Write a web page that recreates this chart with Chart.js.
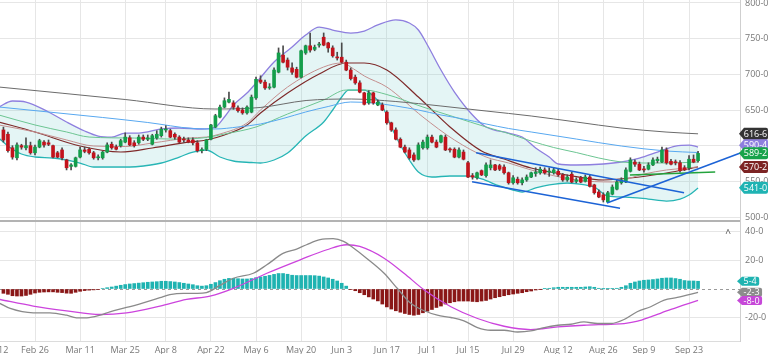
<!DOCTYPE html>
<html>
<head>
<meta charset="utf-8">
<title>Price chart</title>
<script src="https://cdn.jsdelivr.net/npm/chart.js@4.4.1/dist/chart.umd.min.js"></script>
<style>
  html, body { margin: 0; padding: 0; background: #fff; }
  #wrap { position: relative; width: 768px; height: 354px; overflow: hidden; }
  #priceChart { position: absolute; left: 0; top: 0; }
  #macdChart { position: absolute; left: 0; top: 222px; }
</style>
</head>
<body>
<div id="wrap">
  <canvas id="priceChart" width="768" height="222"></canvas>
  <canvas id="macdChart" width="768" height="132"></canvas>
</div>
<script>
// trading days from Feb 12 2024 (x values are indexes in this list)
const holidays = ["2024-02-19", "2024-03-29", "2024-05-27", "2024-06-19", "2024-07-04", "2024-09-02"];
const monthNames = ["Jan", "Feb", "Mar", "Apr", "May", "Jun", "Jul", "Aug", "Sep", "Oct", "Nov", "Dec"];
const dates = [];
for (let t = new Date(Date.UTC(2024, 1, 12)); t <= new Date(Date.UTC(2024, 9, 15)); t.setUTCDate(t.getUTCDate() + 1)) {
  const wd = t.getUTCDay();
  if (wd === 0 || wd === 6 || holidays.includes(t.toISOString().slice(0, 10))) continue;
  dates.push(monthNames[t.getUTCMonth()] + " " + t.getUTCDate());
}

const tickLabels = ["Feb 12", "Feb 26", "Mar 11", "Mar 25", "Apr 8", "Apr 22", "May 6", "May 20", "Jun 3",
  "Jun 17", "Jul 1", "Jul 15", "Jul 29", "Aug 12", "Aug 26", "Sep 9", "Sep 23"];
const firstCandle = "Feb 14";
const priceTicks = [500, 550, 600, 650, 700, 750, 800];
const macdTicks = [40, 20, 0, -20];

// daily candles, Feb 14 .. Sep 25
const open = [
  622, 616, 597, 583, 600, 597, 600, 590, 598, 605,
  604, 600, 590, 594, 580, 571, 571, 584, 594, 595,
  590, 583, 583, 591, 602, 598, 600, 605, 611, 604,
  604, 612, 609, 602, 611, 614, 622, 621, 616, 612,
  609, 608, 608, 604, 593, 595, 609, 626, 640, 654,
  661, 660, 653, 650, 646, 647, 667, 692, 689, 681,
  682, 703, 727, 720, 709, 707, 696, 730, 740, 735,
  741, 752, 744, 737, 724, 724, 717, 706, 696, 688,
  674, 660, 674, 657, 657, 647, 632, 622, 609, 598,
  594, 587, 581, 597, 597, 612, 605, 605, 612, 595,
  595, 584, 591, 576, 558, 555, 565, 558, 569, 573,
  572, 570, 562, 548, 553, 548, 552, 556, 561, 562,
  566, 563, 562, 564, 559, 552, 560, 550, 555, 550,
  556, 545, 535, 531, 521, 532, 539, 548, 549, 564,
  577, 574, 567, 567, 573, 579, 577, 594, 578, 577,
  576, 569, 569, 581, 579
];
const high = [
  626, 619, 600, 604, 602, 611, 605, 601, 609, 607,
  608, 601, 592, 597, 581, 575, 584, 598, 598, 597,
  592, 587, 592, 604, 605, 601, 609, 618, 614, 607,
  615, 615, 615, 616, 621, 626, 628, 623, 618, 614,
  612, 611, 611, 607, 597, 609, 630, 644, 657, 667,
  675, 663, 656, 653, 656, 671, 696, 698, 692, 687,
  709, 737, 740, 723, 716, 710, 734, 741, 758, 741,
  745, 758, 745, 740, 731, 744, 720, 709, 699, 691,
  675, 677, 675, 664, 660, 649, 633, 625, 611, 601,
  597, 590, 604, 608, 615, 615, 608, 615, 615, 597,
  597, 597, 594, 578, 561, 563, 566, 576, 580, 574,
  574, 573, 563, 558, 556, 555, 559, 563, 569, 570,
  569, 569, 569, 567, 561, 559, 563, 555, 557, 559,
  559, 546, 538, 534, 536, 545, 552, 555, 569, 583,
  580, 577, 571, 576, 583, 584, 598, 597, 581, 580,
  579, 572, 586, 587, 592
];
const low = [
  605, 591, 581, 580, 595, 594, 588, 587, 597, 598,
  600, 583, 583, 580, 566, 566, 570, 583, 590, 588,
  581, 580, 581, 590, 595, 594, 598, 604, 600, 598,
  602, 607, 607, 601, 609, 612, 619, 611, 609, 604,
  605, 604, 601, 591, 590, 593, 608, 625, 639, 653,
  660, 651, 647, 644, 644, 646, 665, 687, 679, 679,
  681, 702, 716, 706, 700, 695, 695, 728, 731, 733,
  738, 740, 731, 724, 720, 716, 705, 692, 686, 674,
  657, 658, 658, 656, 649, 630, 620, 608, 597, 590,
  581, 578, 580, 595, 595, 604, 597, 604, 593, 591,
  583, 583, 580, 555, 553, 553, 558, 556, 566, 565,
  565, 560, 546, 546, 546, 545, 550, 555, 557, 560,
  560, 557, 560, 557, 550, 550, 548, 548, 548, 549,
  542, 532, 527, 521, 520, 531, 538, 546, 548, 563,
  571, 565, 563, 566, 572, 576, 576, 574, 573, 573,
  563, 565, 566, 576, 577
];
const close = [
  608, 593, 584, 601, 598, 600, 590, 598, 607, 601,
  602, 584, 584, 583, 569, 573, 583, 594, 592, 590,
  583, 584, 591, 601, 597, 595, 607, 612, 601, 600,
  612, 609, 611, 614, 616, 623, 623, 612, 612, 605,
  608, 605, 604, 593, 594, 608, 629, 642, 654, 663,
  665, 654, 649, 646, 654, 668, 693, 689, 681, 682,
  706, 730, 717, 710, 703, 696, 733, 740, 734, 738,
  742, 741, 737, 726, 723, 717, 706, 694, 688, 675,
  658, 674, 660, 661, 650, 632, 622, 609, 598, 591,
  583, 580, 601, 605, 612, 605, 598, 614, 594, 594,
  584, 594, 581, 556, 556, 562, 559, 573, 573, 566,
  567, 562, 548, 555, 548, 552, 556, 562, 563, 567,
  562, 564, 566, 559, 552, 556, 549, 552, 549, 556,
  543, 534, 528, 524, 534, 542, 549, 552, 566, 580,
  574, 566, 566, 573, 580, 581, 594, 576, 574, 576,
  565, 566, 581, 577, 589.2
];

// MACD histogram, same days as the candles
const histogram = [
  -3.0, -3.7, -4.7, -4.9, -4.9, -4.5, -3.7, -2.8, -2.3, -2.1,
  -2.0, -2.0, -2.3, -2.5, -2.9, -3.0, -2.3, -1.6, -1.1, -0.8,
  -0.6, -0.4, 0.3, 0.9, 1.4, 2.0, 2.6, 3.1, 3.5, 3.8,
  4.1, 4.4, 4.7, 4.9, 5.1, 5.4, 5.4, 5.2, 4.9, 4.5,
  4.0, 3.5, 3.0, 2.3, 2.0, 2.3, 3.3, 4.5, 5.8, 6.8,
  7.4, 7.5, 7.2, 7.0, 7.0, 7.3, 7.9, 8.4, 8.9, 9.5,
  10.2, 10.8, 10.8, 10.3, 9.6, 9.4, 9.4, 9.4, 9.4, 9.3,
  9.0, 8.4, 7.7, 6.8, 5.6, 4.0, 2.0, -0.4, -1.2, -2.6,
  -4.0, -5.5, -7.0, -8.3, -10.5, -12.5, -14.0, -15.2, -16.2, -17.1,
  -17.8, -18.3, -17.8, -16.6, -15.5, -14.3, -12.9, -11.9, -10.5, -9.6,
  -8.9, -8.4, -8.4, -8.4, -8.7, -8.9, -8.4, -8.0, -7.0, -6.1,
  -5.4, -4.7, -4.0, -3.5, -3.0, -2.6, -1.9, -1.4, -0.7, -0.2,
  0.2, 0.5, 0.9, 1.2, 1.2, 1.2, 1.2, 1.2, 1.2, 1.4,
  1.6, 1.2, 0.5, 0.1, 0.2, 0.2, 0.5, 1.2, 2.3, 4.0,
  4.9, 5.6, 6.1, 6.3, 6.6, 7.0, 7.5, 7.7, 7.7, 7.3,
  6.8, 5.9, 5.6, 5.6, 5.4
];

// indicator lines, read at sample days (x = day index)
const sma200X = [1, 29, 48.9, 58.9, 69.1, 79.1, 89, 99, 109, 119, 129, 138.9, 148.9, 156];
const sma200 = [682.2, 664.7, 651.4, 653.5, 663.3, 665.4, 661.9, 655.6, 648.6, 641.6, 633.2, 624.8, 619.1, 616.6];

const sma100X = [1, 12, 24, 34, 44, 49, 54, 59, 64, 69, 74, 79, 84, 89, 94, 99, 104, 109, 114, 119, 129, 139, 149, 156];
const sma100 = [654.2, 647.2, 639.5, 632.5, 624.1, 623.4, 626.2, 630.4, 638.1, 647.2, 654.9, 661.2, 659.8, 655.6,
  650.0, 643.0, 637.4, 630.4, 624.1, 619.2, 609.3, 599.5, 592.5, 590.4];

const sma50X = [1, 9, 16, 21, 31, 39, 46, 51, 58, 65, 73, 78, 82, 87, 95, 102, 109, 114, 119, 124, 129, 134, 139, 144, 149, 156];
const sma50 = [643.0, 629.0, 619.2, 612.1, 610.7, 609.3, 610.7, 616.3, 626.2, 644.4, 664.0, 678.0, 678.0, 671.7,
  654.2, 640.2, 626.2, 617.0, 606.5, 597.4, 590.4, 582.7, 577.1, 575.7, 575.7, 577.1];

const ema20X = [1, 9, 19, 28, 35, 43, 47, 51, 56, 59, 65, 72, 78, 82, 87, 94, 101, 108, 113, 119, 127, 135, 143, 149, 156];
const ema20 = [633.2, 619.2, 599.5, 591.1, 596.7, 605.1, 607.9, 614.9, 629.0, 645.8, 673.8, 700.5, 715.9, 715.9,
  706.1, 668.2, 626.2, 592.5, 581.3, 568.7, 558.9, 551.9, 556.1, 561.7, 570.2];

const sma20X = [1, 9, 16, 22, 29, 35, 43, 47, 50, 56, 59, 65, 73, 77, 80, 82, 87, 95, 102, 109, 114, 119, 129, 137, 144, 149, 156];
const sma20 = [629.0, 619.2, 608.0, 599.5, 598.8, 603.7, 610.7, 612.1, 616.3, 631.8, 650.0, 682.2, 710.3, 715.9,
  706.1, 697.7, 682.2, 640.2, 607.9, 584.1, 575.7, 565.9, 551.9, 549.1, 560.3, 565.9, 570.1];

const bbUpperX = [1, 4, 7, 12, 16, 20, 23, 26, 29, 32, 37, 41, 46, 49, 51, 53, 56, 58, 62, 66, 69, 72, 75, 79, 82,
  85, 89, 92, 94, 96, 99, 102, 106, 109, 114, 117, 120, 123, 125, 129, 135, 139, 143, 147, 151, 154, 156];
const bbUpper = [654.2, 662.6, 661.2, 647.2, 633.2, 620.6, 613.5, 612.1, 617.7, 617.7, 623.4, 624.8, 623.4, 626.2,
  640.2, 657.0, 673.8, 687.8, 717.3, 738.3, 755.1, 766.3, 762.1, 757.9, 760.7, 769.2, 776.2, 771.9, 762.1,
  741.1, 706.1, 675.2, 643.0, 626.2, 617.7, 612.1, 596.7, 584.1, 574.3, 572.9, 574.3, 577.1, 582.7, 591.1,
  599.5, 600.9, 598.1];

const bbLowerX = [1, 3, 6, 9, 13, 16, 19, 22, 26, 30, 33, 37, 41, 44, 47, 50, 53, 57, 59, 62, 65, 69, 73, 75, 77,
  78.5, 82, 84, 86, 88, 90, 92, 94, 97, 101, 105, 108, 112, 115, 117, 120, 123, 127, 131, 133, 136, 140, 145,
  149, 152, 154, 156];
const bbLower = [610.7, 599.5, 588.3, 584.1, 582.7, 579.9, 575.7, 570.1, 570.1, 570.1, 571.5, 575.7, 584.1, 591.1,
  593.9, 584.1, 578.5, 576.4, 575.7, 579.9, 589.7, 613.5, 633.2, 650.0, 668.2, 678.0, 678.0, 669.6, 655.6,
  626.2, 600.9, 579.9, 563.1, 556.1, 557.5, 557.5, 553.3, 543.5, 537.8, 535.0, 540.7, 544.9, 547.7, 544.9,
  542.1, 529.4, 528.0, 525.2, 522.4, 525.2, 530.8, 540.7];

// drawn trend lines (two ends each)
const channelTopX = [106.8, 152.9], channelTop = [590.1, 534.1];
const channelBottomX = [105.9, 138.7], channelBottom = [549.5, 512.2];
const riseLineX = [135.8, 167], riseLine = [519.6, 593.6];
const supportX = [140.9, 159.8], support = [558.9, 563.1];

// MACD and signal lines
const macdX = [1.2, 3.5, 8.6, 12.3, 16, 18.2, 20.5, 23.4, 25.6, 29.3, 33, 36.7, 38.9, 41.9, 45, 47, 50, 53, 57.4,
  60.4, 64.1, 67, 69.2, 72.2, 75.1, 77.4, 79.6, 82.5, 86.4, 89.3, 92.3, 95.3, 98.2, 101.2, 104.1, 107.1, 110,
  113, 116, 118.9, 121.9, 124.9, 127.8, 130.7, 133.7, 136.7, 139.6, 142.5, 145.5, 148.5, 151.4, 156];
const macdLine = [-10, -13.6, -16.6, -16.6, -18.3, -20.1, -20.1, -18.3, -15.9, -12.9, -9.6, -6.1, -4, -3, -3, -2.5,
  2.5, 7.5, 11, 16.9, 25, 27.9, 30.9, 34.4, 35.1, 33.3, 28.6, 21.5, 11, 0.5, -10, -15.2, -18.3, -19.9, -22.2,
  -26.9, -28.8, -28.8, -30, -29.3, -26.9, -25.3, -24.6, -23, -24.1, -24.1, -21.3, -15.9, -12.4, -7.7, -5.9, -2.3];
const signalX = [1.2, 8.6, 16, 23.4, 29.3, 36.7, 42.6, 47.8, 53, 60.4, 67.8, 73.7, 78.1, 81, 86.4, 90.8, 95.3,
  101.2, 107.1, 113, 118.9, 124.9, 130.7, 136.7, 139.6, 142.6, 145.5, 150, 156];
const signalLine = [-7.3, -11.9, -15.2, -17.8, -16.6, -11.9, -7.3, -4.9, 0.5, 11, 20.4, 27.4, 30.9, 29.7, 21.5,
  11, -0.7, -12.4, -20.6, -26, -28.3, -26.5, -25.3, -24.6, -24.1, -22.5, -19.4, -14.3, -8.0];

// last-value tags on the right axis
const priceTagValues = [616.6, 590.4, 589.2, 570.2, 541.0];
const priceTagColors = ["#333333", "#8e7fdf", "#17a34a", "#7c2424", "#1fb3b3"];
const macdTagValues = [5.4, -2.3, -8.0];
const macdTagColors = ["#1fb3b1", "#8c8c8c", "#c648d8"];

const viewMin = 1.24, viewMax = 165.3;
const fmt = v => Number(v).toFixed(1).replace(".", "-");
const pts = (xs, ys) => xs.map((x, i) => ({ x: x, y: ys[i] }));

Chart.defaults.font.family = "'Open Sans', 'Noto Sans', sans-serif";
Chart.defaults.font.size = 9;
Chart.defaults.color = "#777";

const start = dates.indexOf(firstCandle);
const candleX = open.map((_, k) => start + k);
const xTickValues = tickLabels.map(l => dates.indexOf(l));
const up = open.map((o, k) => close[k] >= o);

function lineSet(label, xs, ys, color, width, order) {
  return {
    type: "line", label: label, data: pts(xs, ys), borderColor: color, borderWidth: width,
    pointRadius: 0, cubicInterpolationMode: "monotone", fill: false, order: order
  };
}

function drawTags(ctx, scale, values, colors, x0, h, right) {
  const ys = values.map(v => scale.getPixelForValue(v));
  for (let k = ys.length - 2; k >= 0; k--) {
    if (ys[k + 1] - ys[k] < h - 4) ys[k] = ys[k + 1] - (h - 4);
  }
  ctx.font = "9px 'Open Sans', 'Noto Sans', sans-serif";
  values.forEach((v, k) => {
    const text = fmt(v);
    const w = right ? right - x0 : ctx.measureText(text).width + 9;
    const y = ys[k];
    ctx.fillStyle = colors[k];
    ctx.beginPath();
    ctx.moveTo(x0, y);
    ctx.lineTo(x0 + 5, y - h / 2);
    ctx.lineTo(x0 + w - 2, y - h / 2);
    ctx.quadraticCurveTo(x0 + w, y - h / 2, x0 + w, y - h / 2 + 2);
    ctx.lineTo(x0 + w, y + h / 2 - 2);
    ctx.quadraticCurveTo(x0 + w, y + h / 2, x0 + w - 2, y + h / 2);
    ctx.lineTo(x0 + 5, y + h / 2);
    ctx.closePath();
    ctx.fill();
    ctx.fillStyle = "#fff";
    ctx.textAlign = "center";
    ctx.textBaseline = "middle";
    ctx.fillText(text, x0 + 4 + (w - 4) / 2, y + 0.5);
  });
}

const priceOverlay = {
  id: "priceOverlay",
  afterDraw(chart) {
    const ctx = chart.ctx, area = chart.chartArea;
    ctx.save();
    ctx.strokeStyle = "#b3b3b3";
    ctx.lineWidth = 2;
    ctx.beginPath();
    ctx.moveTo(0, area.bottom - 1);
    ctx.lineTo(area.right, area.bottom - 1);
    ctx.stroke();
    drawTags(ctx, chart.scales.y, priceTagValues, priceTagColors, area.right - 1, 12, 768);
    ctx.restore();
  }
};

const macdOverlay = {
  id: "macdOverlay",
  beforeDatasetsDraw(chart) {
    const ctx = chart.ctx, area = chart.chartArea;
    const y0 = Math.round(chart.scales.y.getPixelForValue(0)) + 0.5;
    ctx.save();
    ctx.strokeStyle = "#9a9a9a";
    ctx.lineWidth = 1;
    ctx.setLineDash([3, 3]);
    ctx.beginPath();
    ctx.moveTo(area.left, y0);
    ctx.lineTo(area.right, y0);
    ctx.stroke();
    ctx.restore();
  },
  afterDraw(chart) {
    const ctx = chart.ctx, area = chart.chartArea;
    ctx.save();
    drawTags(ctx, chart.scales.y, macdTagValues, macdTagColors, area.right - 3, 9, null);
    ctx.fillStyle = "#555";
    ctx.font = "10px 'Open Sans', sans-serif";
    ctx.textAlign = "center";
    ctx.textBaseline = "middle";
    ctx.fillText("^", area.right - 12, chart.scales.y.getPixelForValue(40) + 2);
    ctx.restore();
  }
};

new Chart(document.getElementById("priceChart"), {
  type: "bar",
  data: {
    datasets: [
      lineSet("Channel top", channelTopX, channelTop, "#1c63d6", 1.5, 0),
      lineSet("Channel bottom", channelBottomX, channelBottom, "#1c63d6", 1.5, 0),
      Object.assign(lineSet("Rising line", riseLineX, riseLine, "#1c63d6", 1.5, 0), { clip: false }),
      lineSet("Support", supportX, support, "#23a33c", 1.5, 0),
      {
        label: "Body", order: 1, grouped: false, barThickness: 3, maxBarThickness: 3, minBarLength: 1,
        data: candleX.map((x, k) => ({ x: x, y: [open[k], close[k]] })),
        backgroundColor: up.map(u => u ? "#149e4b" : "#c2131c"), borderWidth: 0
      },
      {
        label: "Wick", order: 2, grouped: false, barThickness: 1, maxBarThickness: 1,
        data: candleX.map((x, k) => ({ x: x, y: [low[k], high[k]] })),
        backgroundColor: "#4a4a4a", borderWidth: 0
      },
      lineSet("SMA 200", sma200X, sma200, "#6b6b6b", 1, 3),
      lineSet("SMA 100", sma100X, sma100, "#58a8f0", 1, 3),
      lineSet("SMA 50", sma50X, sma50, "#6cc592", 1, 3),
      lineSet("SMA 20", sma20X, sma20, "#c48e8e", 1, 3),
      lineSet("EMA 20", ema20X, ema20, "#7f2a2a", 1.2, 3),
      Object.assign(lineSet("BB upper", bbUpperX, bbUpper, "#8e7fdf", 1.3, 4), { fill: "+1", backgroundColor: "rgba(120, 205, 205, 0.2)" }),
      lineSet("BB lower", bbLowerX, bbLower, "#1fb3b3", 1.3, 4)
    ]
  },
  options: {
    responsive: false, animation: false, devicePixelRatio: 1,
    layout: { padding: 0 },
    plugins: { legend: { display: false }, tooltip: { enabled: false } },
    scales: {
      x: {
        type: "linear", min: viewMin, max: viewMax, offset: false,
        grid: { color: "#e6e6e6", drawTicks: false, offset: false },
        border: { display: false },
        ticks: { display: false },
        afterBuildTicks: s => { s.ticks = xTickValues.map(v => ({ value: v })); },
        afterFit: s => { s.height = 0; s.paddingLeft = 0; s.paddingRight = 0; }
      },
      y: {
        position: "right", min: 493, max: 804.2,
        grid: { color: "#e6e6e6", drawTicks: false },
        border: { display: true, color: "#cfcfcf" },
        ticks: { padding: 5, color: "#777", callback: v => fmt(v) },
        afterBuildTicks: s => { s.ticks = priceTicks.map(v => ({ value: v })); },
        afterFit: s => { s.width = 28; s.paddingTop = 0; s.paddingBottom = 0; }
      }
    }
  },
  plugins: [priceOverlay]
});

new Chart(document.getElementById("macdChart"), {
  type: "bar",
  data: {
    datasets: [
      lineSet("MACD", macdX, macdLine, "#8a8a8a", 1.3, 0),
      lineSet("Signal", signalX, signalLine, "#cc44dd", 1.3, 0),
      {
        label: "Histogram", order: 1, barThickness: 3, maxBarThickness: 3,
        data: candleX.map((x, k) => ({ x: x, y: histogram[k] })),
        backgroundColor: histogram.map(v => v >= 0 ? "#1fb3b1" : "#8a1717"), borderWidth: 0
      }
    ]
  },
  options: {
    responsive: false, animation: false, devicePixelRatio: 1,
    layout: { padding: 0 },
    plugins: { legend: { display: false }, tooltip: { enabled: false } },
    scales: {
      x: {
        type: "linear", min: viewMin, max: viewMax, offset: false,
        grid: { color: "#e6e6e6", drawTicks: false, offset: false },
        border: { display: true, color: "#dcdcdc" },
        ticks: { padding: 4, color: "#777", autoSkip: false, maxRotation: 0, callback: v => dates[v] || "" },
        afterBuildTicks: s => { s.ticks = xTickValues.map(v => ({ value: v })); },
        afterFit: s => { s.height = 13; s.paddingLeft = 0; s.paddingRight = 0; }
      },
      y: {
        position: "right", min: -36.3, max: 46.77,
        grid: { color: c => (c.tick && c.tick.value === 0) ? "rgba(0,0,0,0)" : "#e6e6e6", drawTicks: false },
        border: { display: true, color: "#cfcfcf" },
        ticks: { padding: 5, color: "#777", callback: v => v === 0 ? "" : fmt(v) },
        afterBuildTicks: s => { s.ticks = macdTicks.map(v => ({ value: v })); },
        afterFit: s => { s.width = 28; s.paddingTop = 0; s.paddingBottom = 0; }
      }
    }
  },
  plugins: [macdOverlay]
});
</script>
</body>
</html>
